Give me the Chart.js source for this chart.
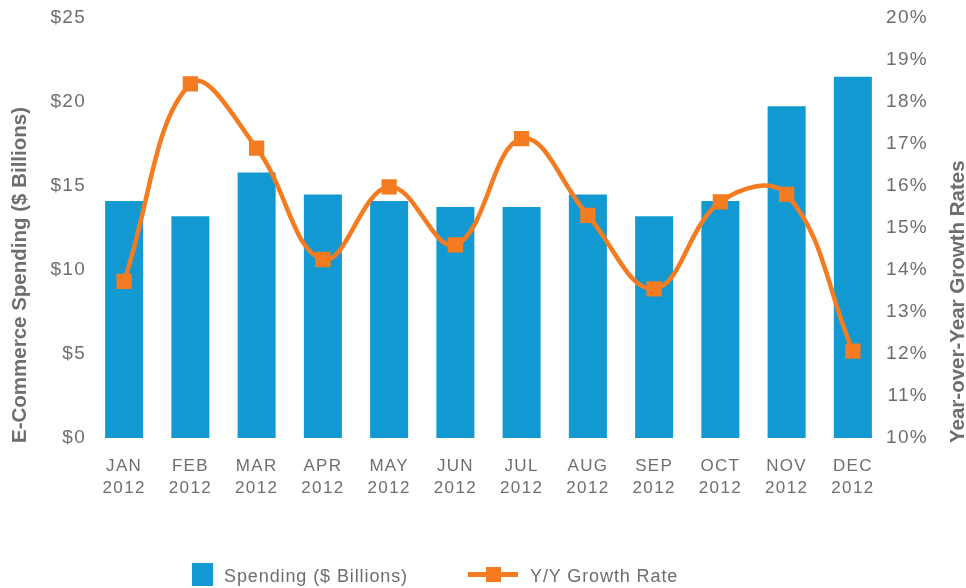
<!DOCTYPE html>
<html>
<head>
<meta charset="utf-8">
<script src="https://cdn.jsdelivr.net/npm/chart.js@4/dist/chart.umd.min.js"></script>
<style>
  html, body { margin: 0; padding: 0; background: #fff; }
  #wrap { position: relative; width: 966px; height: 588px; }
  #legend {
    position: absolute; left: 0; top: 560px; width: 966px; height: 28px;
    font-family: "Liberation Sans", Arial, sans-serif; font-size: 18px;
    color: #6d6e71; letter-spacing: 0.9px;
  }
  .item { position: absolute; top: 0; height: 28px; }
  .box { position: absolute; left: 0; top: 3px; width: 21px; height: 23px; background: #1399d1; }
  .ln { position: absolute; left: 0; top: 12px; width: 50px; height: 5px; background: #f47b20; }
  .mk { position: absolute; left: 18px; top: 7px; width: 15px; height: 15px; background: #f47b20; }
  .txt { position: absolute; top: 6px; white-space: nowrap; }
</style>
</head>
<body>
<div id="wrap">
  <canvas id="chart" width="966" height="588"></canvas>
  <div id="legend">
    <div class="item" style="left:192px"><div class="box"></div><div class="txt" style="left:32px">Spending ($ Billions)</div></div>
    <div class="item" style="left:468px"><div class="ln"></div><div class="mk"></div><div class="txt" style="left:62px">Y/Y Growth Rate</div></div>
  </div>
</div>
<script>
const months = ["JAN", "FEB", "MAR", "APR", "MAY", "JUN", "JUL", "AUG", "SEP", "OCT", "NOV", "DEC"];
const year = "2012";
const spending = [14.1, 13.2, 15.8, 14.5, 14.1, 13.75, 13.75, 14.5, 13.2, 14.1, 19.75, 21.5];
const growth = [13.73, 18.43, 16.9, 14.25, 15.98, 14.6, 17.13, 15.3, 13.55, 15.62, 15.8, 12.07];
const leftTitle = "E-Commerce Spending ($ Billions)";
const rightTitle = "Year-over-Year Growth Rates";

const gray = "#6d6e71";
const blue = "#1399d1";
const orange = "#f47b20";
const fontFamily = '"Liberation Sans", Arial, sans-serif';

Chart.defaults.font.family = fontFamily;
Chart.defaults.color = gray;

function drawTitle(ctx, text, x, y) {
  ctx.save();
  ctx.letterSpacing = "0px";
  ctx.font = "bold 20.5px " + fontFamily;
  ctx.fillStyle = gray;
  ctx.textAlign = "left";
  ctx.textBaseline = "alphabetic";
  ctx.translate(x, y);
  ctx.rotate(-Math.PI / 2);
  ctx.fillText(text, 0, 0);
  ctx.restore();
}

const tracking = {
  id: "tracking",
  beforeUpdate(chart) { chart.ctx.letterSpacing = "1.3px"; },
  beforeDraw(chart) { chart.ctx.letterSpacing = "1.3px"; },
  afterDraw(chart) {
    const bottom = chart.chartArea.bottom + 5;
    drawTitle(chart.ctx, leftTitle, 26, bottom);
    drawTitle(chart.ctx, rightTitle, 964, bottom);
  },
};

new Chart(document.getElementById("chart"), {
  data: {
    labels: months.map((m) => [m, year]),
    datasets: [
      {
        type: "line",
        label: "Y/Y Growth Rate",
        data: growth,
        yAxisID: "y1",
        borderColor: orange,
        borderWidth: 4.5,
        tension: 0.4,
        pointStyle: "rect",
        pointRadius: 10.8,
        pointBorderWidth: 0,
        pointBackgroundColor: orange,
        order: 0,
      },
      {
        type: "bar",
        label: "Spending ($ Billions)",
        data: spending,
        yAxisID: "y",
        backgroundColor: blue,
        categoryPercentage: 1,
        barPercentage: 0.574,
        order: 1,
      },
    ],
  },
  options: {
    responsive: false,
    animation: false,
    layout: { padding: { top: 18, left: 0, right: 38, bottom: 0 } },
    plugins: { legend: { display: false }, tooltip: { enabled: false } },
    scales: {
      x: {
        grid: { display: false, drawTicks: false },
        border: { display: false },
        ticks: { font: { size: 17, lineHeight: 1.25 }, padding: 18, maxRotation: 0 },
        afterFit: (s) => { s.height = 150; },
      },
      y: {
        position: "left",
        min: 0,
        max: 25,
        grid: { display: false, drawTicks: false },
        border: { display: false },
        ticks: { stepSize: 5, font: { size: 19 }, padding: 5, callback: (v) => "$" + v },
        afterFit: (s) => { s.width = 91; },
      },
      y1: {
        position: "right",
        min: 10,
        max: 20,
        grid: { display: false, drawTicks: false },
        border: { display: false },
        ticks: { stepSize: 1, font: { size: 19 }, padding: 0, crossAlign: "far", callback: (v) => v + "%" },
        afterFit: (s) => { s.width = 42; },
      },
    },
  },
  plugins: [tracking],
});
</script>
</body>
</html>
